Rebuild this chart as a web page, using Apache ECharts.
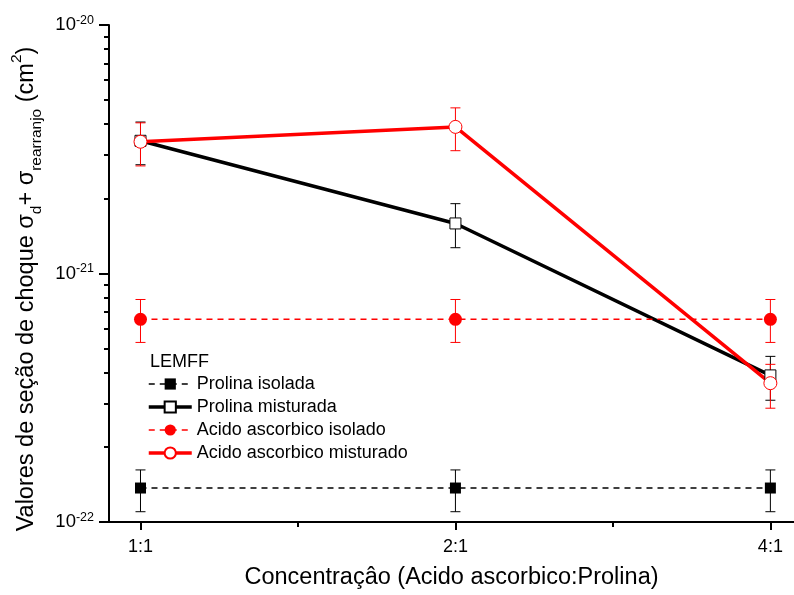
<!DOCTYPE html>
<html>
<head>
<meta charset="utf-8">
<script src="https://cdn.jsdelivr.net/npm/echarts@6/dist/echarts.min.js"></script>
<style>html,body{margin:0;padding:0;background:#fff;}#c{width:794px;height:595px;}</style>
</head>
<body>
<div id="c"></div>
<script>
// ---- data ----
const categories = ['1:1', '2:1', '4:1'];
const xPositions = [1, 2, 3];
const minorXTicks = [1.5, 2.5];
const seriesNames = ['Prolina isolada', 'Prolina misturada', 'Acido ascorbico isolado', 'Acido ascorbico misturado'];

const prolinaIsolada      = [1.37e-22, 1.37e-22, 1.37e-22];
const prolinaIsoladaLow   = [1.10e-22, 1.10e-22, 1.10e-22];
const prolinaIsoladaHigh  = [1.62e-22, 1.62e-22, 1.62e-22];

const prolinaMisturada     = [3.42e-21, 1.59e-21, 3.89e-22];
const prolinaMisturadaLow  = [2.74e-21, 1.27e-21, 3.09e-22];
const prolinaMisturadaHigh = [4.07e-21, 1.91e-21, 4.64e-22];

const acidoIsolado      = [6.54e-22, 6.54e-22, 6.54e-22];
const acidoIsoladoLow   = [5.28e-22, 5.28e-22, 5.28e-22];
const acidoIsoladoHigh  = [7.86e-22, 7.86e-22, 7.86e-22];

const acidoMisturado     = [3.39e-21, 3.89e-21, 3.62e-22];
const acidoMisturadoLow  = [2.71e-21, 3.12e-21, 2.87e-22];
const acidoMisturadoHigh = [4.04e-21, 4.64e-21, 4.31e-22];

const yMin = 1e-22, yMax = 1e-20;
// values are plotted in units of 1e-22 cm^2 (ECharts rounding cannot handle 1e-22 directly)
const UNIT_EXP = -22;
const UNIT = Math.pow(10, UNIT_EXP);

// ---- chart ----
const FONT = '"Liberation Sans", Arial, sans-serif';
const chart = echarts.init(document.getElementById('c'), null, {renderer: 'canvas'});

const minorYTicksLog = [];
for (let d = 0; d < Math.round(Math.log10(yMax / yMin)); d++) for (let k = 2; k <= 9; k++) minorYTicksLog.push(d + Math.log10(k));

function sc(v) { return v / UNIT; }
function pts(vals) { return vals.map((v, i) => [xPositions[i], sc(v)]); }
function errData(lo, hi) { return lo.map((v, i) => [xPositions[i], sc(v), sc(hi[i])]); }
function errSeries(name, lo, hi, color) {
  return {
    type: 'custom', name: name, xAxisIndex: 0, yAxisIndex: 0, clip: false,
    data: errData(lo, hi), encode: {x: 0, y: [1, 2]},
    renderItem: function (params, api) {
      const x = api.value(0);
      const p1 = api.coord([x, api.value(1)]);
      const p2 = api.coord([x, api.value(2)]);
      const w = 5;
      const st = {stroke: color, lineWidth: 1};
      return {type: 'group', children: [
        {type: 'line', shape: {x1: p1[0], y1: p1[1], x2: p2[0], y2: p2[1]}, style: st},
        {type: 'line', shape: {x1: p1[0] - w, y1: p1[1], x2: p1[0] + w, y2: p1[1]}, style: st},
        {type: 'line', shape: {x1: p2[0] - w, y1: p2[1], x2: p2[0] + w, y2: p2[1]}, style: st}
      ]};
    }
  };
}

const option = {
  backgroundColor: '#fff',
  animation: false,
  textStyle: {fontFamily: FONT, color: '#000'},
  grid: {left: 109, right: 0, top: 25, bottom: 72},
  xAxis: [{
    type: 'value', min: 0.9, max: 3.075,
    axisLine: {lineStyle: {color: '#000', width: 2}},
    axisTick: {show: true, customValues: xPositions, length: 8, lineStyle: {color: '#000', width: 2}},
    axisLabel: {customValues: xPositions, margin: 16, fontSize: 18, color: '#000', fontFamily: FONT,
      formatter: function (v) { const i = xPositions.indexOf(Math.round(v)); return i >= 0 ? categories[i] : ''; }},
    splitLine: {show: false},
    name: 'Concentraçâo (Acido ascorbico:Prolina)', nameLocation: 'middle', nameGap: 44,
    nameTextStyle: {fontSize: 23.5, color: '#000', fontFamily: FONT}
  }, {
    type: 'value', min: 0.9, max: 3.075, position: 'bottom',
    axisLine: {show: false},
    axisTick: {show: true, customValues: minorXTicks, length: 5, lineStyle: {color: '#000', width: 2}},
    axisLabel: {show: false}, splitLine: {show: false}
  }],
  yAxis: [{
    type: 'log', logBase: 10, min: sc(yMin), max: sc(yMax),
    axisLine: {show: true, lineStyle: {color: '#000', width: 2}},
    axisTick: {show: true, length: 10, lineStyle: {color: '#000', width: 2}},
    axisLabel: {margin: 15, color: '#000', fontFamily: FONT,
      formatter: function (v) { return '{b|10}{s|' + (Math.round(Math.log10(v)) + UNIT_EXP) + '}'; },
      rich: {b: {fontSize: 18.5, fontFamily: FONT, color: '#000', lineHeight: 22, verticalAlign: 'middle'},
             s: {fontSize: 12.5, fontFamily: FONT, color: '#000', lineHeight: 12, verticalAlign: 'top'}}},
    splitLine: {show: false}, minorTick: {show: false}
  }, {
    type: 'value', min: 0, max: Math.round(Math.log10(yMax / yMin)), position: 'left',
    axisLine: {show: false},
    axisTick: {show: true, customValues: minorYTicksLog, length: 5, lineStyle: {color: '#000', width: 2}},
    axisLabel: {show: false}, splitLine: {show: false}
  }],
  legend: {
    orient: 'vertical', left: 147, top: 375, padding: 0,
    itemWidth: 43, itemHeight: 14, itemGap: 5,
    data: [
      {name: seriesNames[0], lineStyle: {width: 1.5}},
      {name: seriesNames[1], lineStyle: {width: 3.5}},
      {name: seriesNames[2], lineStyle: {width: 1.5}},
      {name: seriesNames[3], lineStyle: {width: 3.5}}
    ],
    textStyle: {fontSize: 18, color: '#000', fontFamily: FONT},
    selectedMode: false
  },
  graphic: [
    {type: 'text', left: 150, top: 353, style: {text: 'LEMFF', font: '18px ' + FONT, fill: '#000'}},
    {type: 'text', x: 27, y: 289, rotation: Math.PI / 2,
     style: {
       text: '{m|Valores de seção de choque σ}{sub|d}{m|+ σ}{sub|rearranjo}{m| (cm}{sup|2}{m|)}',
       align: 'center', verticalAlign: 'middle',
       rich: {
         m: {fontSize: 23.5, fontFamily: FONT, fill: '#000', lineHeight: 36, verticalAlign: 'middle'},
         sub: {fontSize: 15.5, fontFamily: FONT, fill: '#000', lineHeight: 15, verticalAlign: 'bottom'},
         sup: {fontSize: 15.5, fontFamily: FONT, fill: '#000', lineHeight: 15, verticalAlign: 'top'}
       }
     }}
  ],
  series: [
    errSeries('e1', prolinaIsoladaLow, prolinaIsoladaHigh, '#000'),
    {type: 'line', name: seriesNames[0], data: pts(prolinaIsolada), symbol: 'rect', symbolSize: 11,
     lineStyle: {color: '#000', width: 1.5, type: [6, 5]}, itemStyle: {color: '#000'}},
    errSeries('e2', prolinaMisturadaLow, prolinaMisturadaHigh, '#000'),
    {type: 'line', name: seriesNames[1], data: pts(prolinaMisturada), symbol: 'rect', symbolSize: 11,
     lineStyle: {color: '#000', width: 3.5}, itemStyle: {color: '#fff', borderColor: '#000', borderWidth: 1}},
    errSeries('e3', acidoIsoladoLow, acidoIsoladoHigh, '#ff0000'),
    {type: 'line', name: seriesNames[2], data: pts(acidoIsolado), symbol: 'circle', symbolSize: 13,
     lineStyle: {color: '#ff0000', width: 1.5, type: [6, 5]}, itemStyle: {color: '#ff0000'}},
    errSeries('e4', acidoMisturadoLow, acidoMisturadoHigh, '#ff0000'),
    {type: 'line', name: seriesNames[3], data: pts(acidoMisturado), symbol: 'circle', symbolSize: 13,
     lineStyle: {color: '#ff0000', width: 3.5}, itemStyle: {color: '#fff', borderColor: '#ff0000', borderWidth: 1}}
  ]
};
chart.setOption(option);
</script>
</body>
</html>
